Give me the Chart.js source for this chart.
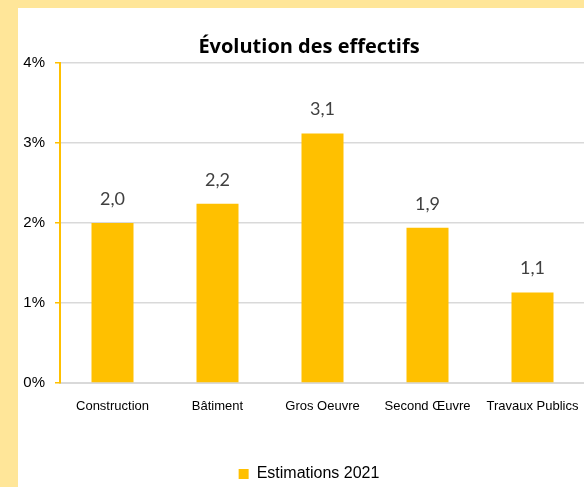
<!DOCTYPE html>
<html>
<head>
<meta charset="utf-8">
<script src="https://cdn.jsdelivr.net/npm/chart.js@4"></script>
<style>
  html, body { margin: 0; padding: 0; overflow: hidden; }
  body { background: #FFE699; width: 584px; height: 487px; position: relative; }
  #box { position: absolute; left: 18px; top: 8px; width: 582px; height: 484px; background: #fff; }
</style>
</head>
<body>
<div id="box"><canvas id="effectifsChart" width="582" height="484"></canvas></div>
<script>
const categories = ['Construction', 'Bâtiment', 'Gros Oeuvre', 'Second Œuvre', 'Travaux Publics'];
const estimations2021 = [2.00, 2.24, 3.12, 1.94, 1.13];
const yTicks = [0, 1, 2, 3, 4];

// étiquettes au-dessus des barres, format "2,0"
const barLabels = {
    id: 'barLabels',
    afterDatasetsDraw(chart) {
        const ctx = chart.ctx;
        const meta = chart.getDatasetMeta(0);
        ctx.save();
        ctx.font = '18px Lato';
        ctx.fillStyle = '#404040';
        ctx.textAlign = 'center';
        ctx.textBaseline = 'middle';
        meta.data.forEach((bar, i) => {
            const txt = estimations2021[i].toFixed(1).replace('.', ',');
            ctx.fillText(txt, bar.x, bar.y - 24);
        });
        ctx.restore();
    }
};

const ctx = document.getElementById('effectifsChart').getContext('2d');
new Chart(ctx, {
    type: 'bar',
    data: {
        labels: categories,
        datasets: [{
            label: 'Estimations 2021',
            data: estimations2021,
            backgroundColor: '#FFC000',
            borderWidth: 0,
            barPercentage: 0.4,
            categoryPercentage: 1
        }]
    },
    options: {
        responsive: false,
        animation: false,
        plugins: {
            title: {
                display: true,
                text: 'Évolution des effectifs',
                font: { family: 'Open Sans', size: 20, weight: 'bold' },
                color: '#000',
                padding: { top: 27, bottom: 4 }
            },
            legend: {
                position: 'bottom',
                labels: {
                    boxWidth: 10,
                    boxHeight: 10,
                    padding: 2,
                    color: '#000',
                    font: { family: 'Liberation Sans', size: 16 }
                }
            },
            tooltip: { enabled: false }
        },
        scales: {
            x: {
                grid: { display: false },
                border: { color: '#D9D9D9', width: 2 },
                ticks: {
                    color: '#000',
                    padding: 8,
                    maxRotation: 0,
                    autoSkip: false,
                    font: { family: 'Liberation Sans', size: 13 }
                },
                afterFit: scale => { scale.height = 81; }
            },
            y: {
                min: 0,
                max: 4,
                afterBuildTicks: scale => { scale.ticks = yTicks.map(v => ({ value: v })); },
                grid: { color: '#D9D9D9', lineWidth: 1.5, tickColor: '#FFC000', tickLength: 5 },
                border: { color: '#FFC000', width: 2 },
                ticks: {
                    color: '#000',
                    padding: 10,
                    font: { family: 'Liberation Sans', size: 15 },
                    callback: value => value + '%'
                },
                afterFit: scale => { scale.width = 42; }
            },
            // axe vide à droite : le graphique déborde de la fenêtre
            yRight: {
                position: 'right',
                min: 0,
                max: 4,
                grid: { display: false },
                border: { display: false },
                ticks: { display: false },
                afterFit: scale => { scale.width = 15; }
            }
        }
    },
    plugins: [barLabels]
});
</script>
</body>
</html>
